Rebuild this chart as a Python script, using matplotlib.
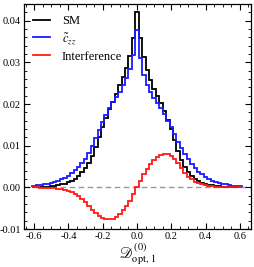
import numpy as np
import matplotlib
matplotlib.use("Agg")
import matplotlib.pyplot as plt
from matplotlib.ticker import MultipleLocator, AutoMinorLocator, FormatStrFormatter

plt.rcParams['font.family'] = ['Liberation Serif', 'DejaVu Serif']
plt.rcParams['mathtext.fontset'] = 'stix'
plt.rcParams['axes.unicode_minus'] = False

bin_centers = np.round(np.arange(-0.6, 0.6001, 0.02), 3)
bin_width = 0.02

sm = [0.0000, 0.0001, 0.0001, 0.0001, 0.0002, 0.0003, 0.0004, 0.0005, 0.0007, 0.0009,
      0.0012, 0.0016, 0.0021, 0.0028, 0.0036, 0.0046, 0.0059, 0.0075, 0.0096, 0.0120,
      0.0144, 0.0166, 0.0187, 0.0206, 0.0225, 0.0245, 0.0265, 0.0287, 0.0315, 0.0358,
      0.0420,
      0.0358, 0.0312, 0.0282, 0.0258, 0.0237, 0.0220, 0.0202, 0.0183, 0.0162, 0.0140,
      0.0114, 0.0088, 0.0066, 0.0049, 0.0036, 0.0027, 0.0020, 0.0015, 0.0011, 0.0008,
      0.0006, 0.0005, 0.0004, 0.0003, 0.0002, 0.0002, 0.0001, 0.0001, 0.0001, 0.0000]

czz = [0.0004, 0.0005, 0.0006, 0.0008, 0.0009, 0.0011, 0.0013, 0.0016, 0.0019, 0.0023,
       0.0028, 0.0034, 0.0041, 0.0049, 0.0058, 0.0069, 0.0083, 0.0100, 0.0119, 0.0138,
       0.0157, 0.0174, 0.0190, 0.0204, 0.0217, 0.0230, 0.0245, 0.0262, 0.0285, 0.0318,
       0.0377,
       0.0310, 0.0270, 0.0245, 0.0228, 0.0214, 0.0203, 0.0190, 0.0176, 0.0160, 0.0144,
       0.0127, 0.0110, 0.0094, 0.0080, 0.0067, 0.0056, 0.0046, 0.0038, 0.0031, 0.0025,
       0.0020, 0.0016, 0.0013, 0.0010, 0.0008, 0.0007, 0.0005, 0.0004, 0.0004, 0.0003]

interf = [0.0000, 0.0000, -0.0001, -0.0001, -0.0001, -0.0002, -0.0002, -0.0003, -0.0004, -0.0006,
          -0.0008, -0.0011, -0.0015, -0.0021, -0.0028, -0.0036, -0.0045, -0.0054, -0.0062, -0.0069,
          -0.0074, -0.0077, -0.0077, -0.0075, -0.0071, -0.0064, -0.0055, -0.0045, -0.0032, -0.0017,
          0.0000,
          0.0016, 0.0032, 0.0045, 0.0056, 0.0065, 0.0072, 0.0077, 0.0080, 0.0080, 0.0076,
          0.0068, 0.0058, 0.0046, 0.0035, 0.0026, 0.0019, 0.0014, 0.0010, 0.0007, 0.0005,
          0.0004, 0.0003, 0.0002, 0.0001, 0.0001, 0.0001, 0.0000, 0.0000, 0.0000, 0.0000]

labels = ["SM", r"$\tilde{c}_{zz}$", "Interference"]
colors = ["black", "#1a1aff", "#ff1a1a"]

fig = plt.figure(figsize=(2.54, 2.67), dpi=100)
ax = fig.add_axes([0.094, 0.142, 0.894, 0.843])

edges = np.concatenate([bin_centers - bin_width / 2, [bin_centers[-1] + bin_width / 2]])
ax.axhline(0, color='#999999', ls=(0, (4, 2.5)), lw=1.0, zorder=1)
for vals, lab, c in zip([sm, czz, interf], labels, colors):
    ax.stairs(vals, edges, color=c, lw=1.3, label=lab, zorder=3)

ax.set_xlim(-0.66, 0.665)
ax.set_ylim(-0.01, 0.044)
ax.xaxis.set_major_locator(MultipleLocator(0.2))
ax.xaxis.set_minor_locator(MultipleLocator(0.05))
ax.yaxis.set_major_locator(MultipleLocator(0.01))
ax.yaxis.set_minor_locator(AutoMinorLocator(5))
ax.xaxis.set_major_formatter(FormatStrFormatter('%.1f'))
ax.yaxis.set_major_formatter(FormatStrFormatter('%.2f'))
ax.tick_params(which='both', direction='in', top=True, right=True, labelsize=7.5, pad=2)
ax.tick_params(which='major', length=4, width=0.8)
ax.tick_params(which='minor', length=2, width=0.6)
for s in ax.spines.values():
    s.set_linewidth(0.9)

ax.set_xlabel(r"$\mathscr{D}^{(0)}_{\rm opt,\,1}$", fontsize=10.5, labelpad=0.5)
ax.legend(loc='upper left', frameon=False, fontsize=9, handlelength=1.35,
          handletextpad=1.0, borderaxespad=0.3, labelspacing=0.35,
          bbox_to_anchor=(0.0, 0.99))

fig.savefig("out.png", dpi=100)
